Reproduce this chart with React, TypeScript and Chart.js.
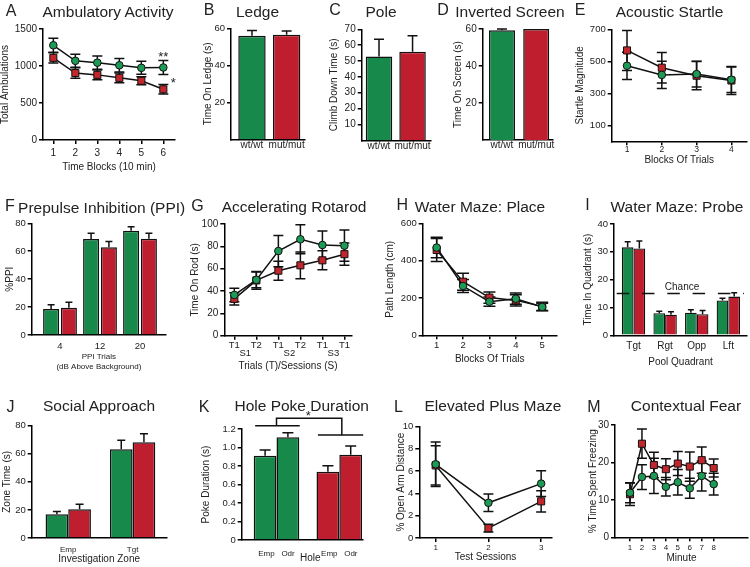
import React, { useEffect, useRef } from 'react';
import { Chart, registerables } from 'chart.js';

Chart.register(...registerables);

const FONT = '"Liberation Sans", Arial, Helvetica, sans-serif';
const INK = '#222222';
const LINE = '#111111';
const GREEN = '#17894a';
const RED = '#be1e2d';
const DOT_GREEN = '#1d9a55';
const DOT_RED = '#c1272d';

// ---------------- data ----------------
// A Ambulatory activity
const ambBlocks = ['1', '2', '3', '4', '5', '6'];
const ambWt = [1280, 1070, 1045, 1010, 975, 980];
const ambWtErr = [95, 88, 90, 90, 88, 95];
const ambMut = [1110, 905, 880, 840, 800, 685];
const ambMutErr = [70, 70, 65, 65, 55, 65];
const ambTicks = [0, 500, 1000, 1500];
const ambStars = [
  { x: 6, y: 1171, text: '**', size: 13, star: true },
  { x: 6.45, y: 820, text: '*', size: 13, star: true },
];

// B, C, D
const genotypes = ['wt/wt', 'mut/mut'];
const ledgeTime = [56, 56.5];
const ledgeErr = [2.8, 2];
const ledgeTicks = [20, 40, 60];
const poleTime = [52.8, 55.9];
const poleErr = [11, 10];
const poleTicks = [10, 20, 30, 40, 50, 60, 70];
const screenTime = [59.3, 60];
const screenErr = [0.7, 0];
const screenTicks = [20, 40, 60];

// E Acoustic startle
const startleBlocks = ['1', '2', '3', '4'];
const startleWt = [472, 415, 420, 385];
const startleWtErr = [85, 85, 80, 80];
const startleMut = [568, 460, 410, 380];
const startleMutErr = [125, 95, 88, 88];
const startleTicks = [100, 300, 500, 700];

// F Prepulse inhibition
const ppiLevels = ['4', '12', '20'];
const ppiWt = [18.6, 68.8, 74.7];
const ppiWtErr = [3.1, 4, 2.9];
const ppiMut = [19.6, 62.8, 69];
const ppiMutErr = [3.8, 4.1, 3.8];
const ppiTicks = [0, 20, 40, 60, 80];

// G Rotarod
const rotarodTrials = ['T1', 'T2', 'T1', 'T2', 'T1', 'T1'];
const rotarodSessions = ['S1', 'S2', 'S3'];
const rotarodWt = [36.5, 50, 75.8, 86.3, 81.2, 80.6];
const rotarodWtErr = [6, 7, 14, 13, 12.5, 14];
const rotarodMut = [33, 49.5, 58.2, 63, 67.5, 73];
const rotarodMutErr = [5.5, 8, 8.5, 12, 8.5, 10];
const rotarodTicks = [0, 20, 40, 60, 80, 100];

// H Water maze place
const placeBlocks = ['1', '2', '3', '4', '5'];
const placeWt = [470, 264, 180, 196, 152];
const placeWtErr = [55, 35, 25, 30, 20];
const placeMut = [457, 287, 202, 187, 155];
const placeMutErr = [62, 45, 30, 30, 22];
const placeTicks = [0, 200, 400, 600];

// I Water maze probe
const quadrants = ['Tgt', 'Rgt', 'Opp', 'Lft'];
const probeWt = [31.6, 7.9, 8.1, 12.5];
const probeWtErr = [2, 0.7, 1.1, 0.8];
const probeMut = [31.2, 7.4, 7.6, 13.9];
const probeMutErr = [2.7, 1.1, 1.3, 1.4];
const probeTicks = [0, 10, 20, 30, 40];
const chanceLevel = 15;
const chanceLabel = [{ x: 2.535, y: 17.4, text: 'Chance', size: 10 }];

// J Social approach
const zones = ['Emp', 'Tgt'];
const socialWt = [16.9, 63.2];
const socialWtErr = [1.9, 6.5];
const socialMut = [20.5, 68.2];
const socialMutErr = [3.6, 6];
const socialTicks = [0, 20, 40, 60, 80];

// K Hole poke
const holes = ['Emp', 'Odr'];
const pokeWt = [0.912, 1.11];
const pokeWtErr = [0.06, 0.05];
const pokeMut = [0.739, 0.922];
const pokeMutErr = [0.065, 0.094];
const pokeTicks = [0, 0.2, 0.4, 0.6, 0.8, 1.0, 1.2];
const pokeBracketLevels = [1.236, 1.135, 1.316];
const pokeBracketWt = [0.66, 1.37];
const pokeBracketMut = [1.66, 2.38];
const pokeBracketJoins = [1.0, 2.04];
const pokeStar = [{ x: 1.506, y: 1.373, text: '*', size: 13, star: true }];

// L Elevated plus maze
const epmSessions = ['1', '2', '3'];
const epmWt = [6.6, 3.15, 4.87];
const epmWtErr = [2.0, 0.78, 1.15];
const epmMut = [6.5, 0.88, 3.28];
const epmMutErr = [1.75, 0.35, 0.95];
const epmTicks = [0, 2, 4, 6, 8, 10];

// M Contextual fear
const fearMinutes = ['1', '2', '3', '4', '5', '6', '7', '8'];
const fearWt = [11.9, 16.1, 16.4, 13.5, 14.7, 13.1, 16.4, 14.2];
const fearWtErr = [2.7, 3.3, 4.7, 2.5, 3.4, 2.7, 4, 2.9];
const fearMut = [11.5, 25, 19.3, 18.2, 19.7, 18.9, 20.6, 18.5];
const fearMutErr = [3, 3.9, 3.4, 2.8, 3.2, 3.9, 3.5, 2.4];
const fearTicks = [0, 10, 20, 30];

// ---------------- helpers ----------------
const idx = (labels: string[]) => labels.map((_, i) => i + 1);
const labelAt = (labels: string[]) => (v: number) => labels[Math.round(v) - 1] ?? '';
const pts = (values: number[]) => values.map((v, i) => ({ x: i + 1, y: v }));

function lineSeries(values: number[], errors: number[], geno: 'wt' | 'mut', cap = 10) {
  return {
    type: 'line',
    data: pts(values),
    errors,
    errorMode: 'both',
    capWidth: cap,
    borderColor: LINE,
    borderWidth: 1.5,
    tension: 0,
    pointStyle: geno === 'wt' ? 'circle' : 'rect',
    pointRadius: geno === 'wt' ? 3.8 : 5,
    pointBackgroundColor: geno === 'wt' ? DOT_GREEN : DOT_RED,
    pointBorderColor: LINE,
    pointBorderWidth: 1,
    clip: false,
  };
}

function barSeries(values: number[], errors: number[], color: any, c: number, b: number, cap: number, bw = 1.5) {
  return {
    type: 'bar',
    data: pts(values),
    errors,
    errorMode: 'up',
    capWidth: cap,
    backgroundColor: color,
    borderColor: LINE,
    borderWidth: bw,
    categoryPercentage: c,
    barPercentage: b,
    clip: false,
  };
}

function drawErrors(chart: any) {
  const ctx = chart.ctx;
  const yS = chart.scales.y;
  chart.data.datasets.forEach((ds: any, i: number) => {
    if (!ds.errors) return;
    const meta = chart.getDatasetMeta(i);
    meta.data.forEach((el: any, j: number) => {
      const e = ds.errors[j];
      if (!e) return;
      const v = ds.data[j].y;
      const x = el.x;
      const yTop = yS.getPixelForValue(v + e);
      const yBot = ds.errorMode === 'both' ? yS.getPixelForValue(v - e) : yS.getPixelForValue(v);
      const cw = ds.capWidth / 2;
      ctx.save();
      ctx.strokeStyle = LINE;
      ctx.lineWidth = 1.5;
      ctx.beginPath();
      ctx.moveTo(x, yTop);
      ctx.lineTo(x, yBot);
      ctx.moveTo(x - cw, yTop);
      ctx.lineTo(x + cw, yTop);
      if (ds.errorMode === 'both') {
        ctx.moveTo(x - cw, yBot);
        ctx.lineTo(x + cw, yBot);
      }
      ctx.stroke();
      ctx.restore();
    });
  });
}

const errorBars = {
  id: 'errorBars',
  beforeDatasetsDraw(chart: any) {
    if (chart.data.datasets[0]?.type === 'line') drawErrors(chart);
  },
  afterDatasetsDraw(chart: any) {
    if (chart.data.datasets[0]?.type === 'bar') drawErrors(chart);
  },
};

function marksPlugin(marks: any[]) {
  return {
    id: 'marks',
    afterDatasetsDraw(chart: any) {
      const { ctx, scales } = chart;
      ctx.save();
      ctx.fillStyle = INK;
      ctx.textAlign = 'center';
      marks.forEach((m) => {
        ctx.font = `${m.size}px ${FONT}`;
        let py = scales.y.getPixelForValue(m.y);
        if (m.star) {
          ctx.textBaseline = 'alphabetic';
          py += m.size * 0.57;
        } else {
          ctx.textBaseline = 'middle';
        }
        ctx.fillText(m.text, scales.x.getPixelForValue(m.x), py);
      });
      ctx.restore();
    },
  };
}

const chancePlugin = {
  id: 'chance',
  afterDatasetsDraw(chart: any) {
    const { ctx, chartArea, scales } = chart;
    const py = scales.y.getPixelForValue(chanceLevel);
    ctx.save();
    ctx.strokeStyle = LINE;
    ctx.lineWidth = 1.5;
    ctx.setLineDash([12.5, 12.8]);
    ctx.beginPath();
    ctx.moveTo(chartArea.left + 2.7, py);
    ctx.lineTo(chartArea.right - 3, py);
    ctx.stroke();
    ctx.restore();
  },
};

const bracketPlugin = {
  id: 'bracket',
  afterDatasetsDraw(chart: any) {
    const { ctx, scales } = chart;
    const X = (v: number) => scales.x.getPixelForValue(v);
    const Y = (v: number) => scales.y.getPixelForValue(v);
    const [lv, rv, tv] = pokeBracketLevels;
    ctx.save();
    ctx.strokeStyle = LINE;
    ctx.lineWidth = 1.5;
    ctx.beginPath();
    ctx.moveTo(X(pokeBracketWt[0]), Y(lv));
    ctx.lineTo(X(pokeBracketWt[1]), Y(lv));
    ctx.moveTo(X(pokeBracketMut[0]), Y(rv));
    ctx.lineTo(X(pokeBracketMut[1]), Y(rv));
    ctx.moveTo(X(pokeBracketJoins[0]), Y(lv));
    ctx.lineTo(X(pokeBracketJoins[0]), Y(tv));
    ctx.lineTo(X(pokeBracketJoins[1]), Y(tv));
    ctx.lineTo(X(pokeBracketJoins[1]), Y(rv));
    ctx.stroke();
    ctx.restore();
  },
};

// ---------------- panels ----------------
const panels: any[] = [
  {
    kind: 'line', plot: [43, 29, 175, 140], yTitleX: 5.5, xTitleY: 167, xLabelY: 153.3,
    yTitle: 'Total Ambulations', xTitle: 'Time Blocks (10 min)',
    xMin: 0.53, xMax: 6.53, xTicks: idx(ambBlocks), xLabel: labelAt(ambBlocks), xTickSize: 10,
    yMax: 1500, yTicks: ambTicks, yTickSize: 10,
    datasets: [lineSeries(ambWt, ambWtErr, 'wt'), lineSeries(ambMut, ambMutErr, 'mut')],
    extra: [marksPlugin(ambStars)],
  },
  {
    kind: 'bar', plot: [231, 28.3, 305, 139.3], yTitleX: 208.3, xLabelY: 145.7,
    yTitle: 'Time On Ledge (s)',
    xMin: 0.395, xMax: 2.53, xTicks: idx(genotypes), xLabel: labelAt(genotypes), xTickSize: 10,
    yMax: 60, yTicks: ledgeTicks, yTickSize: 9.5,
    datasets: [barSeries(ledgeTime, ledgeErr, [GREEN, RED], 0.79, 1, 10)],
  },
  {
    kind: 'bar', plot: [361.7, 29.3, 431, 140.3], yTitleX: 334.3, xLabelY: 146.3,
    yTitle: 'Climb Down Time (s)',
    xMin: 0.484, xMax: 2.55, xTicks: idx(genotypes), xLabel: labelAt(genotypes), xTickSize: 10,
    yMax: 70, yTicks: poleTicks, yTickSize: 10,
    datasets: [barSeries(poleTime, poleErr, [GREEN, RED], 0.79, 1, 10)],
  },
  {
    kind: 'bar', plot: [482.7, 29, 553, 140], yTitleX: 458.3, xLabelY: 145.7,
    yTitle: 'Time On Screen (s)',
    xMin: 0.437, xMax: 2.49, xTicks: idx(genotypes), xLabel: labelAt(genotypes), xTickSize: 10,
    yMax: 60, yTicks: screenTicks, yTickSize: 10,
    datasets: [barSeries(screenTime, screenErr, [GREEN, RED], 0.76, 1, 10)],
  },
  {
    kind: 'line', plot: [611.7, 29.3, 746.7, 141.3], yTitleX: 580, xTitleY: 160, xLabelY: 150,
    yTitle: 'Startle Magnitude', xTitle: 'Blocks Of Trials',
    xMin: 0.56, xMax: 4.44, xTicks: idx(startleBlocks), xLabel: labelAt(startleBlocks), xTickSize: 8.5,
    yMax: 700, yTicks: startleTicks, yTickSize: 9.5,
    datasets: [lineSeries(startleWt, startleWtErr, 'wt'), lineSeries(startleMut, startleMutErr, 'mut')],
  },
  {
    kind: 'bar', plot: [31.7, 223.3, 166, 335], yTitleX: 10, xTitleY: 356.7, xLabelY: 346,
    yTitle: '%PPI', xTitle: ['PPI Trials', '(dB Above Background)'], xTitleSize: 8, xTitleLH: 1.25,
    xMin: 0.2925, xMax: 3.65, xTicks: idx(ppiLevels), xLabel: labelAt(ppiLevels), xTickSize: 9.5,
    yMax: 80, yTicks: ppiTicks, yTickSize: 9.5,
    datasets: [
      barSeries(ppiWt, ppiWtErr, GREEN, 0.89, 0.9, 7),
      barSeries(ppiMut, ppiMutErr, RED, 0.89, 0.9, 7),
    ],
  },
  {
    kind: 'line', plot: [224.3, 224, 351.7, 335.7], yTitleX: 195, xTitleY: 366.7, xLabelY: 345,
    yTitle: 'Time On Rod (s)', xTitle: 'Trials (T)/Sessions (S)',
    xMin: 0.545, xMax: 6.33, xTicks: [1, 1.5, 2, 3, 3.5, 4, 5, 5.5, 6],
    xLabel: (v: number) =>
      Number.isInteger(v) ? [rotarodTrials[v - 1]] : ['', rotarodSessions[Math.round((v - 1.5) / 2)]],
    xTickSize: 9.5, xTickLH: 0.9,
    tickColor: (c: any) => (c.tick && Number.isInteger(c.tick.value) ? '#000' : 'rgba(0,0,0,0)'),
    yMax: 100, yTicks: rotarodTicks, yTickSize: 10,
    datasets: [lineSeries(rotarodWt, rotarodWtErr, 'wt'), lineSeries(rotarodMut, rotarodMutErr, 'mut')],
  },
  {
    kind: 'line', plot: [422.7, 223.3, 556.7, 335.3], yTitleX: 390, xTitleY: 359, xLabelY: 345,
    yTitle: 'Path Length (cm)', xTitle: 'Blocks Of Trials',
    xMin: 0.47, xMax: 5.55, xTicks: idx(placeBlocks), xLabel: labelAt(placeBlocks), xTickSize: 9.5,
    yMax: 600, yTicks: placeTicks, yTickSize: 9.5,
    datasets: [lineSeries(placeWt, placeWtErr, 'wt', 12), lineSeries(placeMut, placeMutErr, 'mut', 12)],
  },
  {
    kind: 'bar', plot: [614, 224, 747, 335.3], yTitleX: 588, xTitleY: 362.7, xLabelY: 346.7,
    yTitle: 'Time In Quadrant (s)', xTitle: 'Pool Quadrant',
    xMin: 0.383, xMax: 4.59, xTicks: idx(quadrants), xLabel: labelAt(quadrants), xTickSize: 10,
    yMax: 40, yTicks: probeTicks, yTickSize: 9.5,
    datasets: [
      barSeries(probeWt, probeWtErr, GREEN, 0.74, 1, 6, 1.3),
      barSeries(probeMut, probeMutErr, RED, 0.74, 1, 6, 1.3),
    ],
    extra: [chancePlugin, marksPlugin(chanceLabel)],
  },
  {
    kind: 'bar', plot: [31.7, 425.7, 166.7, 538], yTitleX: 7.3, xTitleY: 559, xLabelY: 549.3,
    yTitle: 'Zone Time (s)', xTitle: 'Investigation Zone',
    xMin: 0.432, xMax: 2.53, xTicks: idx(zones), xLabel: labelAt(zones), xTickSize: 8,
    yMax: 80, yTicks: socialTicks, yTickSize: 9.5,
    datasets: [
      barSeries(socialWt, socialWtErr, GREEN, 0.705, 1, 8),
      barSeries(socialMut, socialMutErr, RED, 0.705, 1, 8),
    ],
  },
  {
    kind: 'bar', plot: [241.7, 429, 362.3, 540], yTitleX: 206.7, xTitleY: 558.3, xLabelY: 553.3,
    yTitle: 'Poke Duration (s)', xTitle: '      Hole', topRoom: 26,
    xMin: 0.446, xMax: 2.366, xTicks: [1, 2], xLabel: () => holes.join('   '), xTickSize: 8,
    yMax: 1.2, yTicks: pokeTicks, yTickSize: 9.5,
    yFmt: (v: number) => (v === 0 ? '0' : v.toFixed(1)),
    datasets: holes.map((_, k) =>
      barSeries([pokeWt[k], pokeMut[k]], [pokeWtErr[k], pokeMutErr[k]], [GREEN, RED], 0.726, 1, 11)
    ),
    extra: [bracketPlugin, marksPlugin(pokeStar)],
  },
  {
    kind: 'line', plot: [419.3, 426.3, 551.7, 538], yTitleX: 401.7, xTitleY: 557.7, xLabelY: 547.7,
    yTitle: '% Open Arm Distance', xTitle: 'Test Sessions',
    xMin: 0.69, xMax: 3.2, xTicks: idx(epmSessions), xLabel: labelAt(epmSessions), xTickSize: 8,
    yMax: 10, yTicks: epmTicks, yTickSize: 9.5,
    datasets: [lineSeries(epmWt, epmWtErr, 'wt'), lineSeries(epmMut, epmMutErr, 'mut')],
  },
  {
    kind: 'line', plot: [615, 425, 748, 537.3], yTitleX: 593.3, xTitleY: 558.3, xLabelY: 547.7,
    yTitle: '% Time Spent Freezing', xTitle: 'Minute',
    xMin: -0.255, xMax: 10.87, xTicks: idx(fearMinutes), xLabel: labelAt(fearMinutes), xTickSize: 8,
    yMax: 30, yTicks: fearTicks, yTickSize: 10,
    datasets: [lineSeries(fearWt, fearWtErr, 'wt'), lineSeries(fearMut, fearMutErr, 'mut')],
  },
];

const panelText = [
  { letter: 'A', lx: 11, ly: 10.8, title: 'Ambulatory Activity', tx: 108, ty: 12 },
  { letter: 'B', lx: 209, ly: 10, title: 'Ledge', tx: 257.5, ty: 12 },
  { letter: 'C', lx: 335, ly: 10, title: 'Pole', tx: 381, ty: 12 },
  { letter: 'D', lx: 443, ly: 10, title: 'Inverted Screen', tx: 510, ty: 12 },
  { letter: 'E', lx: 580, ly: 10, title: 'Acoustic Startle', tx: 669.5, ty: 12 },
  { letter: 'F', lx: 10, ly: 205.8, title: 'Prepulse Inhibition (PPI)', tx: 101.7, ty: 208.3 },
  { letter: 'G', lx: 197.5, ly: 205.5, title: 'Accelerating Rotarod', tx: 294, ty: 206.7 },
  { letter: 'H', lx: 402.4, ly: 205, title: 'Water Maze: Place', tx: 480, ty: 207.3 },
  { letter: 'I', lx: 587.5, ly: 205, title: 'Water Maze: Probe', tx: 677, ty: 206.7 },
  { letter: 'J', lx: 10.5, ly: 406.7, title: 'Social Approach', tx: 99, ty: 405.7 },
  { letter: 'K', lx: 204, ly: 406.7, title: 'Hole Poke Duration', tx: 301.7, ty: 405.7 },
  { letter: 'L', lx: 398.4, ly: 406.7, title: 'Elevated Plus Maze', tx: 493, ty: 405.7 },
  { letter: 'M', lx: 594, ly: 406.7, title: 'Contextual Fear', tx: 686, ty: 405.7 },
];

// ---------------- chart building ----------------
function geometry(p: any) {
  const [l, t, r, b] = p.plot;
  const cx = Math.floor(p.yTitleX - 10);
  const cy = Math.floor(t - (p.topRoom ?? 18));
  const cr = Math.ceil(r + 10);
  const xtSize = p.xTitleSize ?? 10;
  const xtLH = xtSize * (p.xTitleLH ?? 1.2);
  const lines = p.xTitle ? (Array.isArray(p.xTitle) ? p.xTitle.length : 1) : 0;
  const tickLH = p.xTickSize * (p.xTickLH ?? 1.2);
  const need = lines ? p.xTitleY + xtLH / 2 + xtLH * (lines - 1) + 4 : p.xLabelY + tickLH / 2 + 4;
  const cb = Math.ceil(need);
  const tl = p.kind === 'line' ? 4 : 0;
  return {
    cx, cy, w: cr - cx, h: cb - cy,
    yw: l - cx, xh: cb - b, padTop: t - cy, padRight: cr - r,
    xTitlePad: lines ? cb - p.xTitleY - xtLH / 2 - xtLH * (lines - 1) : 0,
    yTitlePad: p.yTitleX - cx - 6,
    xTickPad: p.xLabelY - b - tl - tickLH / 2,
    tl, xtSize,
  };
}

function makeConfig(p: any, g: any) {
  return {
    type: p.kind,
    data: { datasets: p.datasets },
    options: {
      animation: false,
      responsive: false,
      maintainAspectRatio: false,
      events: [],
      layout: { padding: { left: 0, top: g.padTop, right: g.padRight, bottom: 0 }, autoPadding: false },
      plugins: { legend: { display: false }, tooltip: { enabled: false }, title: { display: false } },
      scales: {
        x: {
          type: 'linear',
          min: p.xMin,
          max: p.xMax,
          offset: false,
          afterFit: (s: any) => { s.height = g.xh; },
          afterBuildTicks: (s: any) => { s.ticks = p.xTicks.map((v: number) => ({ value: v })); },
          ticks: {
            autoSkip: false, maxRotation: 0, minRotation: 0,
            padding: g.xTickPad, color: INK,
            font: { family: FONT, size: p.xTickSize, lineHeight: p.xTickLH ?? 1.2 },
            callback: (v: any) => p.xLabel(Number(v)),
          },
          grid: {
            display: true, drawOnChartArea: false, drawTicks: g.tl > 0, tickLength: 4,
            tickWidth: 1.5, lineWidth: 1.5, tickColor: p.tickColor ?? '#000', offset: false,
          },
          border: { display: true, color: '#000', width: 1.5 },
          title: {
            display: !!p.xTitle, text: p.xTitle ?? '', color: INK,
            font: { family: FONT, size: g.xtSize, lineHeight: p.xTitleLH ?? 1.2 },
            padding: { top: 0, bottom: g.xTitlePad },
          },
        },
        y: {
          type: 'linear',
          min: 0,
          max: p.yMax,
          afterFit: (s: any) => { s.width = g.yw; },
          afterBuildTicks: (s: any) => { s.ticks = p.yTicks.map((v: number) => ({ value: v })); },
          ticks: {
            padding: 2, color: INK,
            font: { family: FONT, size: p.yTickSize },
            callback: (v: any) => (p.yFmt ? p.yFmt(Number(v)) : String(v)),
          },
          grid: {
            display: true, drawOnChartArea: false, drawTicks: true, tickLength: 4,
            tickWidth: 1.5, lineWidth: 1.5, tickColor: '#000',
          },
          border: { display: true, color: '#000', width: 1.5 },
          title: {
            display: true, text: p.yTitle, color: INK,
            font: { family: FONT, size: 10, lineHeight: 1.2 },
            padding: { top: g.yTitlePad, bottom: 0 },
          },
        },
      },
    },
    plugins: [errorBars, ...(p.extra ?? [])],
  };
}

function PanelCanvas({ spec }: { spec: any }) {
  const ref = useRef<HTMLCanvasElement | null>(null);
  const g = geometry(spec);
  useEffect(() => {
    if (!ref.current) return;
    const chart = new Chart(ref.current, makeConfig(spec, g) as any);
    return () => chart.destroy();
  }, []);
  return (
    <canvas
      ref={ref}
      width={g.w}
      height={g.h}
      style={{ position: 'absolute', left: g.cx, top: g.cy, width: g.w, height: g.h }}
    />
  );
}

const textStyle = (x: number, y: number, size: number): React.CSSProperties => ({
  position: 'absolute',
  left: x,
  top: y,
  transform: 'translate(-50%, -50%)',
  fontFamily: FONT,
  fontSize: size,
  lineHeight: 1,
  color: INK,
  whiteSpace: 'nowrap',
});

export default function App() {
  return (
    <div
      style={{
        position: 'absolute', left: 0, top: 0, width: 750, height: 567,
        overflow: 'hidden', background: '#ffffff',
      }}
    >
      {panels.map((p, i) => (
        <PanelCanvas key={i} spec={p} />
      ))}
      {panelText.map((t) => (
        <React.Fragment key={t.letter}>
          <div style={textStyle(t.lx, t.ly, 16)}>{t.letter}</div>
          <div style={textStyle(t.tx, t.ty, 15.5)}>{t.title}</div>
        </React.Fragment>
      ))}
    </div>
  );
}
